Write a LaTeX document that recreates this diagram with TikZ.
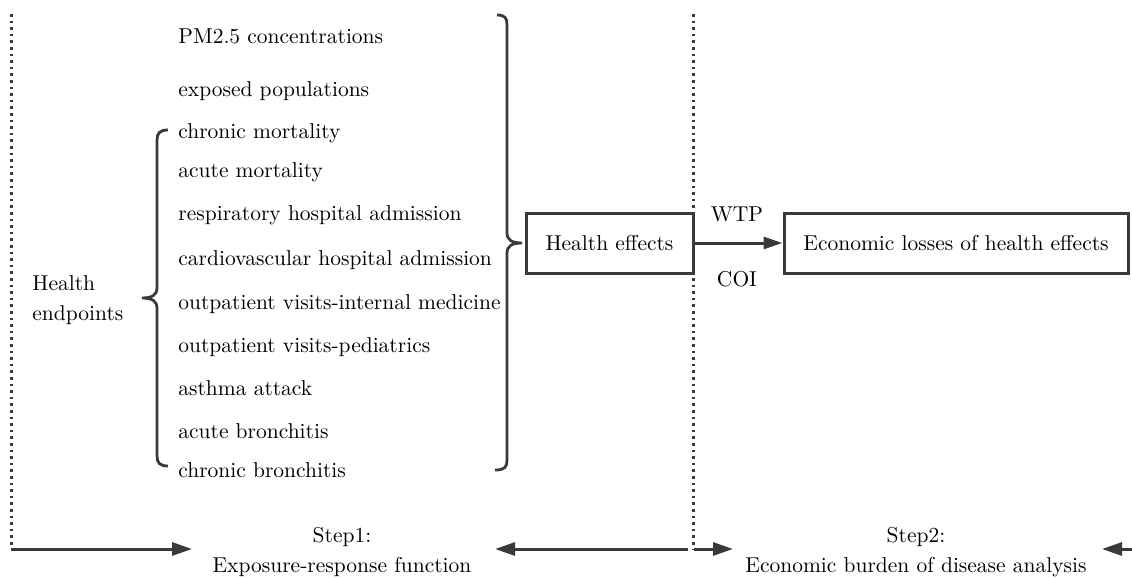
\documentclass[tikz,border=0pt]{standalone}
\usepackage{fontspec}
\newfontfamily\tnr{Latin Modern Roman}
\usetikzlibrary{arrows.meta}
\definecolor{ln}{HTML}{3A3A3A}
\tikzset{
  txt/.style={inner sep=0pt, font=\tnr\fontsize{10.75}{15}\selectfont, text=black},
  item/.style={txt, anchor=west},
  boxnode/.style={draw=ln, line width=1.5pt, minimum height=30pt, inner sep=0pt, font=\tnr\fontsize{10.75}{15}\selectfont},
  brace/.style={draw=ln, line width=1.4pt},
  divider/.style={draw=ln, line width=1.5pt, dash pattern=on 1.3pt off 2pt},
  arr/.style={draw=ln, line width=1.5pt, -{Triangle[length=10pt,width=6.5pt]}},
}
\begin{document}
\begin{tikzpicture}[x=0.5pt,y=-0.5pt]
\useasboundingbox (0,0) rectangle (1132,578);

% dotted dividers
\coordinate (d1t) at (11,14);
\coordinate (d1b) at (11,548);
\coordinate (d2t) at (693,14);
\coordinate (d2b) at (693,549);
\draw[divider] (d1t) -- (d1b);
\draw[divider] (d2t) -- (d2b);

% list items
\node[item] (i1) at (178,36) {PM2.5 concentrations};
\node[item] (i2) at (178,91) {exposed populations};
\node[item] (i3) at (178,133) {chronic mortality};
\node[item] (i4) at (178,172) {acute mortality};
\node[item] (i5) at (178,215) {respiratory hospital admission};
\node[item] (i6) at (178,260) {cardiovascular hospital admission};
\node[item] (i7) at (178,304) {outpatient visits-internal medicine};
\node[item] (i8) at (178,347) {outpatient visits-pediatrics};
\node[item] (i9) at (178,388) {asthma attack};
\node[item] (i10) at (178,431) {acute bronchitis};
\node[item] (i11) at (178,470) {chronic bronchitis};

\node[txt, anchor=west, align=left] (he) at (32,300) {Health\\endpoints};

% left brace
\draw[brace] (168,130) .. controls (160,130) and (157,133) .. (157,140)
  -- (157,288) .. controls (157,295) and (152,298) .. (142,298)
  .. controls (152,298) and (157,301) .. (157,308)
  -- (157,456) .. controls (157,463) and (160,466) .. (168,466);

% right brace
\draw[brace] (497,15) .. controls (505,15) and (507,18) .. (507,25)
  -- (507,233) .. controls (507,240) and (512,243) .. (522,243)
  .. controls (512,243) and (507,246) .. (507,253)
  -- (507,460) .. controls (507,467) and (505,470) .. (495,470);

% boxes
\node[boxnode, minimum width=83.5pt] (hef) at (609.5,243) {Health effects};
\node[boxnode, minimum width=172pt] (eco) at (956,243) {Economic losses of health effects};

\draw[arr, -{Triangle[length=9.5pt,width=6pt]}] (hef.east) -- (eco.west);
\node[txt] (wtp) at (737,214) {WTP};
\node[txt] (coi) at (737,279) {COI};

% bottom arrows
\coordinate (a1s) at (11,549);
\coordinate (a1e) at (192,549);
\coordinate (a2s) at (688,549);
\coordinate (a2e) at (495,549);
\coordinate (a3s) at (694,549);
\coordinate (a3e) at (733,549);
\coordinate (a4s) at (1132,549);
\coordinate (a4e) at (1102,549);
\draw[arr] (a1s) -- (a1e);
\draw[arr] (a2s) -- (a2e);
\draw[arr] (a3s) -- (a3e);
\draw[arr] (a4s) -- (a4e);

\node[txt, align=center] (s1) at (342,552) {Step1:\\Exposure-response function};
\node[txt, align=center] (s2) at (916,552) {Step2:\\Economic burden of disease analysis};
\end{tikzpicture}
\end{document}
